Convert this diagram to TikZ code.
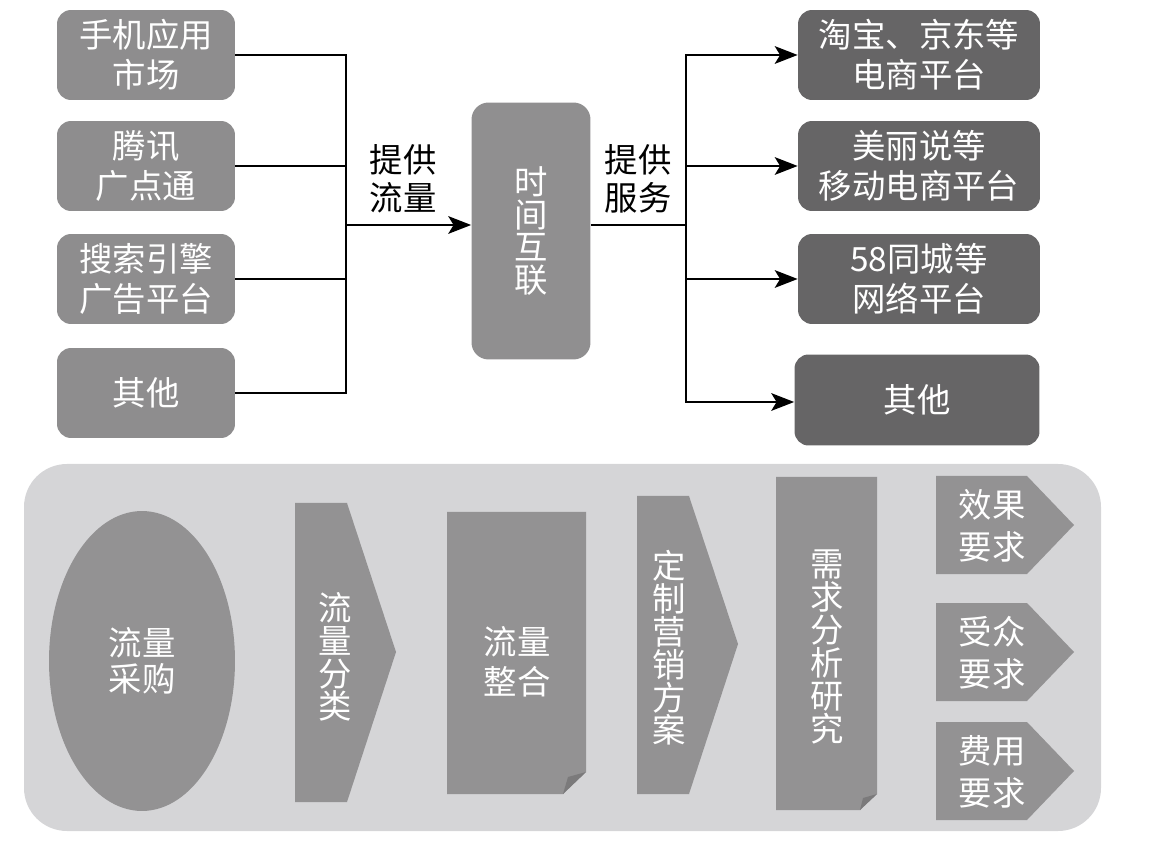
\documentclass[tikz,border=0pt]{standalone}
\usepackage{fontspec}
\setmainfont{Noto Sans CJK SC}
\usetikzlibrary{arrows.meta,shapes.geometric}
\definecolor{srcgray}{HTML}{8E8D8E}
\definecolor{hubgray}{HTML}{908F90}
\definecolor{dstgray}{HTML}{666566}
\definecolor{panelgray}{HTML}{D5D5D7}
\definecolor{stepgray}{HTML}{939293}
\definecolor{foldgray}{HTML}{7B7A7B}
\begin{document}
\begin{tikzpicture}[x=0.02cm, y=-0.02cm,
  txt/.style={text=white, align=center, inner sep=0pt, font=\fontsize{19}{22.7}\selectfont},
  vtxt/.style={text=white, align=center, inner sep=0pt, font=\fontsize{19}{18.7}\selectfont},
  src/.style={txt, fill=srcgray, rounded corners=0.28cm, minimum width=3.56cm, minimum height=1.8cm},
  dst/.style={txt, fill=dstgray, rounded corners=0.28cm, minimum width=4.84cm, minimum height=1.8cm},
  lab/.style={align=center, inner sep=0pt, font=\fontsize{19}{21.5}\selectfont},
  link/.style={line width=1.5pt},
  arr/.style={link, -{Stealth[length=13pt, width=10pt, inset=3pt]}}]
  \useasboundingbox (0,0) rectangle (1150,844);
  % top: sources -> hub -> platforms
  \node[src] (app) at (146,55) {手机应用\\市场};
  \node[src] (ad) at (146,166) {腾讯\\广点通};
  \node[src] (search) at (146,279) {搜索引擎\\广告平台};
  \node[src] (othl) at (146,393) {其他};
  \node[vtxt, fill=hubgray, rounded corners=0.34cm, minimum width=2.38cm, minimum height=5.14cm] (hub) at (531,231) {时\\间\\互\\联};
  \node[dst] (shop) at (919,55) {淘宝、京东等\\电商平台};
  \node[dst] (mob) at (919,166) {美丽说等\\移动电商平台};
  \node[dst] (city) at (919,279) {58同城等\\网络平台};
  \node[dst, minimum width=4.9cm, minimum height=1.82cm] (othr) at (917,400) {其他};
  \coordinate (jl) at (346,225);
  \coordinate (jr) at (686,225);
  \foreach \n in {app,ad,search,othl}
    \draw[link] (\n.east) -| (jl);
  \draw[arr] (jl) -- (jl -| hub.west);
  \draw[link] (jr -| hub.east) -- (jr);
  \foreach \n in {shop,mob,city}
    \draw[arr] (jr) |- (\n.west);
  \draw[arr] (jr) |- (othr.west |- 0,402);
  \node[lab] (inlab) at (403,179) {提供\\流量};
  \node[lab] (outlab) at (638,179) {提供\\服务};
  % bottom: process panel
  \fill[panelgray, rounded corners=0.86cm] (24,464) rectangle (1101,831);
  \node[ellipse, fill=stepgray, minimum width=3.72cm, minimum height=6cm, txt, font=\fontsize{19}{20.4}\selectfont] (buy) at (142,661) {流量\\采购};
  \fill[stepgray] (295,503) -- (347,503) -- (396,652) -- (347,802) -- (295,802) -- cycle;
  \node[vtxt] (sort) at (335,657) {流\\量\\分\\类};
  \fill[stepgray] (447,512) -- (586,512) -- (586,772) -- (563,794) -- (447,794) -- cycle;
  \fill[foldgray] (563,794) -- (568,777) -- (586,772) -- cycle;
  \node[txt] (merge) at (517,662) {流量\\整合};
  \fill[stepgray] (637,496) -- (689,496) -- (738,644) -- (689,794) -- (637,794) -- cycle;
  \node[vtxt] (plan) at (669,648) {定\\制\\营\\销\\方\\案};
  \fill[stepgray] (776,477) -- (877,477) -- (877,794) -- (860,810) -- (776,810) -- cycle;
  \fill[foldgray] (860,810) -- (863,798) -- (877,794) -- cycle;
  \node[vtxt] (need) at (827,647) {需\\求\\分\\析\\研\\究};
  \foreach \y/\t [count=\i] in {476/效果,603/受众,722/费用} {
    \fill[stepgray] (936,\y) -- (1027,\y) -- (1074,\y+49) -- (1027,\y+98) -- (936,\y+98) -- cycle;
    \node[txt, font=\fontsize{19}{23.8}\selectfont] (req\i) at (992,\y+50) {\t\\要求};
  }
\end{tikzpicture}
\end{document}
